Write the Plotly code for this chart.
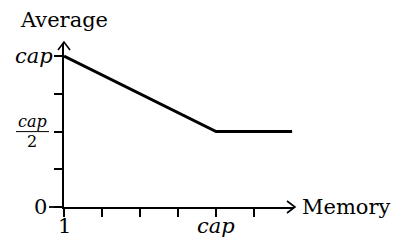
import plotly.graph_objects as go

# data in tick units: x 0 -> "1", x 4 -> "cap"; y 4 -> cap, y 2 -> cap/2
memory = [0, 4, 6]
average = [4, 2, 2]
x_ticks = [0, 1, 2, 3, 4, 5]
x_tick_labels = ["1", "", "", "", "<i>cap</i>", ""]
y_ticks = [0, 1, 2, 3, 4]
y_tick_labels = ["0", "", "frac", "", "<i>cap</i>"]
x_title = "Memory"
y_title = "Average"

FONT = "DejaVu Serif"
FS = 21
X_MAX = 6.05
Y_MAX = 4.35

fig = go.Figure()
fig.add_trace(go.Scatter(x=memory, y=average, mode="lines",
                         line=dict(color="black", width=3), showlegend=False,
                         hoverinfo="skip"))

annotations = []
for v, t in zip(x_ticks, x_tick_labels):
    if t:
        annotations.append(dict(x=v, y=0, xref="x", yref="y", text=t, showarrow=False,
                                xanchor="center", yanchor="middle", yshift=-19,
                                font=dict(family=FONT, size=FS, color="black")))
for v, t in zip(y_ticks, y_tick_labels):
    if t == "frac":
        annotations.append(dict(x=0, y=v, xref="x", yref="y", text="<i>cap</i>", showarrow=False,
                                xanchor="center", yanchor="middle", xshift=-32, yshift=10,
                                font=dict(family=FONT, size=16, color="black")))
        annotations.append(dict(x=0, y=v, xref="x", yref="y", text="2", showarrow=False,
                                xanchor="center", yanchor="middle", xshift=-32, yshift=-10,
                                font=dict(family=FONT, size=16, color="black")))
    elif t:
        annotations.append(dict(x=0, y=v, xref="x", yref="y", text=t, showarrow=False,
                                xanchor="right", yanchor="middle",
                                xshift=-15 if t == "0" else -9,
                                font=dict(family=FONT, size=FS, color="black")))
annotations.append(dict(x=X_MAX, y=0, xref="x", yref="y", text=x_title, showarrow=False,
                        xanchor="left", yanchor="middle", xshift=6,
                        font=dict(family=FONT, size=FS, color="black")))
annotations.append(dict(x=0, y=Y_MAX, xref="x", yref="y", text=y_title, showarrow=False,
                        xanchor="center", yanchor="middle", yshift=23,
                        font=dict(family=FONT, size=FS, color="black")))

shapes = [
    # fraction bar for cap/2
    dict(type="line", xref="paper", yref="y", xsizemode="pixel", xanchor=0,
         x0=-48, x1=-15, y0=2, y1=2, line=dict(color="black", width=1)),
    # longer stub of the horizontal axis at the origin
    dict(type="line", xref="paper", yref="paper", xsizemode="pixel", xanchor=0,
         x0=-15, x1=0, y0=0, y1=0, line=dict(color="black", width=1.8)),
    # arrow heads
    dict(type="path", xref="paper", yref="paper", xsizemode="pixel", ysizemode="pixel",
         xanchor=1, yanchor=0, path="M -7,6 L 1,0 L -7,-6", line=dict(color="black", width=1.6)),
    dict(type="path", xref="paper", yref="paper", xsizemode="pixel", ysizemode="pixel",
         xanchor=0, yanchor=1, path="M -6,-7 L 0,1 L 6,-7", line=dict(color="black", width=1.6)),
]

# page body adds an 8px offset, so the figure is 8px smaller and margins compensate
fig.update_layout(
    width=391, height=234,
    margin=dict(l=56, r=105, t=35, b=35),
    paper_bgcolor="white", plot_bgcolor="white",
    xaxis=dict(range=[0, X_MAX], showline=True, linecolor="black", linewidth=1.8,
               ticks="outside", ticklen=8, tickwidth=1.6, tickcolor="black",
               tickvals=x_ticks, showticklabels=False, showgrid=False, zeroline=False,
               fixedrange=True),
    yaxis=dict(range=[0, Y_MAX], showline=True, linecolor="black", linewidth=1.8,
               ticks="outside", ticklen=8, tickwidth=1.6, tickcolor="black",
               tickvals=y_ticks, showticklabels=False, showgrid=False, zeroline=False,
               fixedrange=True),
    annotations=annotations,
    shapes=shapes,
)

fig.write_html("out.html")
